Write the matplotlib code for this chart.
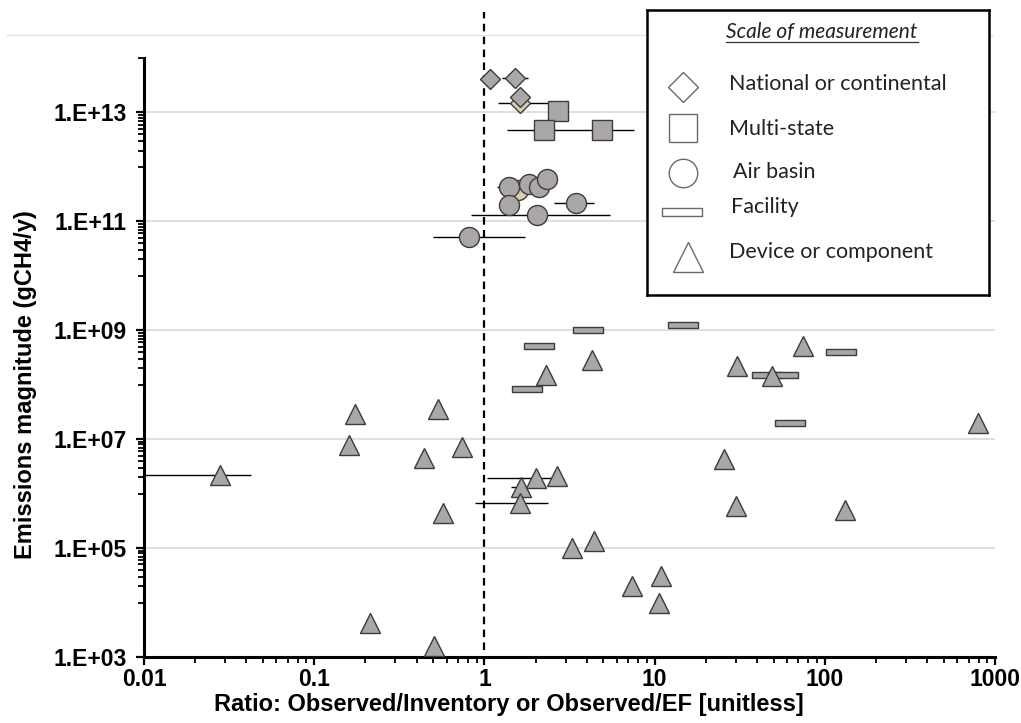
import numpy as np
import matplotlib
matplotlib.use("Agg")
import matplotlib.pyplot as plt
from matplotlib.lines import Line2D
from matplotlib.path import Path
from matplotlib.ticker import FixedLocator, FuncFormatter, NullFormatter

# ---------------- data: ratio (x) and emissions magnitude in gCH4/y (y) ----------------
# National or continental
nat_x = [1.08, 1.51, 1.61]
nat_y = [4.2e13, 4.3e13, 1.96e13]
nat_alt_x = [1.61]
nat_alt_y = [1.5e13]

# Multi-state
multi_x = [2.70, 2.25, 4.9]
multi_y = [1.05e13, 4.8e12, 4.8e12]

# Air basin
basin_x = [1.40, 1.82, 2.10, 2.33, 1.40, 2.03, 3.45, 0.81]
basin_y = [4.3e11, 4.8e11, 4.2e11, 6.0e11, 2.04e11, 1.29e11, 2.2e11, 5.1e10]
basin_alt_x = [1.57]
basin_alt_y = [3.7e11]

# Facility
fac_x = [2.08, 4.07, 14.7, 1.79, 124, 46, 57, 62.6]
fac_y = [5.2e8, 1.03e9, 1.23e9, 8.5e7, 4.0e8, 1.5e8, 1.5e8, 2.0e7]

# Device or component
dev_x = [0.028, 0.16, 0.174, 0.443, 0.537, 0.575, 0.738, 0.213, 0.507,
         1.64, 2.02, 2.67, 1.61, 3.27, 4.38, 7.36, 10.95, 10.6,
         25.4, 30.2, 131, 2.31, 4.28, 30.6, 48.7, 74, 798]
dev_y = [2.2e6, 7.8e6, 2.9e7, 4.6e6, 3.6e7, 4.4e5, 7.3e6, 4.2e3, 1.6e3,
         1.32e6, 1.96e6, 2.1e6, 6.6e5, 1.0e5, 1.33e5, 1.98e4, 3.06e4, 1.0e4,
         4.4e6, 5.9e5, 5.0e5, 1.5e8, 2.8e8, 2.2e8, 1.45e8, 5.2e8, 2.0e7]

# Uncertainty ranges on the ratio (y level, low, high)
err_y = [4.2e13, 4.3e13, 1.5e13, 4.8e12, 4.3e11, 1.29e11, 2.2e11, 5.1e10,
         2.2e6, 1.96e6, 1.32e6, 6.6e5]
err_lo = [0.95, 1.27, 1.20, 1.35, 1.18, 0.83, 2.55, 0.50,
          0.005, 1.03, 1.43, 0.88]
err_hi = [1.20, 1.80, 2.50, 7.55, 1.60, 5.46, 4.42, 1.74,
          0.0425, 2.50, 1.87, 2.35]

x_ticks = [0.01, 0.1, 1, 10, 100, 1000]
x_ticklabels = ["0.01", "0.1", "1", "10", "100", "1000"]
y_ticks = [1e3, 1e5, 1e7, 1e9, 1e11, 1e13]

legend_labels = ["National or continental", "Multi-state", "Air basin",
                 "Facility", "Device or component"]

# ---------------- styling ----------------
W, H = 1021, 723
FILL = "#aba7a7"
EDGE = "#3c3c3c"
ALT_FILL = "#d8ceb2"
GRID = "#d9d9d9"
AX_FONT = "Liberation Sans"

# Flat bar-shaped marker for facilities
bar_marker = Path([(-1, -0.2), (1, -0.2), (1, 0.2), (-1, 0.2), (-1, -0.2)],
                  [Path.MOVETO, Path.LINETO, Path.LINETO, Path.LINETO, Path.CLOSEPOLY])

fig = plt.figure(figsize=(W / 100, H / 100), dpi=100)
L, R, B, T = 144, 995, 657, 58
ax = fig.add_axes([L / W, 1 - B / H, (R - L) / W, (B - T) / H])
ax.set_xscale("log")
ax.set_yscale("log")
ax.set_xlim(0.01, 1000)
ax.set_ylim(1e3, 1e14)

# axes frame
for side in ("top", "right"):
    ax.spines[side].set_visible(False)
for side in ("left", "bottom"):
    ax.spines[side].set_linewidth(2.2)
    ax.spines[side].set_color("black")

# ticks
ax.xaxis.set_major_locator(FixedLocator(x_ticks))
ax.xaxis.set_major_formatter(FuncFormatter(lambda v, p: x_ticklabels[x_ticks.index(v)] if v in x_ticks else ""))
x_minor = [k * 10.0 ** e for e in range(-2, 3) for k in range(2, 10)]
ax.xaxis.set_minor_locator(FixedLocator(x_minor))
ax.xaxis.set_minor_formatter(NullFormatter())

ax.yaxis.set_major_locator(FixedLocator(y_ticks))
ax.yaxis.set_major_formatter(FuncFormatter(lambda v, p: "1.E+%02d" % int(round(np.log10(v)))))
y_minor = [k * 10.0 ** e for e in (4, 6, 8, 10, 12) for k in range(1, 10)] + [1e14]
ax.yaxis.set_minor_locator(FixedLocator(y_minor))
ax.yaxis.set_minor_formatter(NullFormatter())

ax.tick_params(which="major", direction="out", length=5.5, width=1.6, color="black")
ax.tick_params(which="minor", direction="out", length=4.0, width=1.3, color="black")
ax.tick_params(axis="x", which="major", pad=2.5)
ax.tick_params(axis="y", which="major", pad=7)
for lab in ax.get_xticklabels() + ax.get_yticklabels():
    lab.set_fontfamily(AX_FONT)
    lab.set_fontweight("bold")
    lab.set_fontsize(16.5)

ax.yaxis.grid(True, which="major", color=GRID, linewidth=1.2, zorder=0)
ax.set_axisbelow(True)

ax.set_xlabel("Ratio: Observed/Inventory or Observed/EF [unitless]",
              fontfamily=AX_FONT, fontweight="bold", fontsize=17, labelpad=1)
ax.set_ylabel("Emissions magnitude (gCH4/y)",
              fontfamily=AX_FONT, fontweight="bold", fontsize=17, labelpad=12)
# axis titles sit off-centre along their axes
ax.xaxis.label.set_x((509 - L) / (R - L))
ax.yaxis.label.set_y((B - 385) / (B - T))

# reference line at ratio = 1
ax.axvline(1, ymin=(B - 650) / (B - T), ymax=(B - 12) / (B - T), clip_on=False,
           color="black", linewidth=1.6, linestyle=(0, (3.4, 2.4)), zorder=2)

# uncertainty bars
ax.hlines(err_y, err_lo, err_hi, colors="black", linewidth=1.0, zorder=3)

mk = dict(linestyle="none", markeredgecolor=EDGE, markeredgewidth=1.0, zorder=4)
ax.plot(nat_alt_x, nat_alt_y, marker="D", markersize=10.2, markerfacecolor=ALT_FILL, **mk)
ax.plot(basin_alt_x, basin_alt_y, marker="o", markersize=14.4, markerfacecolor=ALT_FILL, **mk)
ax.plot(fac_x, fac_y, marker=bar_marker, markersize=21.6, markerfacecolor=FILL, **mk)
ax.plot(dev_x, dev_y, marker="^", markersize=14.4, markerfacecolor=FILL, **mk)
ax.plot(basin_x, basin_y, marker="o", markersize=14.4, markerfacecolor=FILL, **mk)
ax.plot(nat_x, nat_y, marker="D", markersize=10.2, markerfacecolor=FILL, **mk)
ax.plot(multi_x, multi_y, marker="s", markersize=15, markerfacecolor=FILL, **mk)

# thin rule along the top of the chart area
fig.add_artist(Line2D([7 / W, 993 / W], [1 - 35 / H] * 2, color="#e3e3e3", linewidth=1.0))

# ---------------- legend box ----------------
LX0, LX1, LY0, LY1 = 647, 989, 10, 295
lax = fig.add_axes([LX0 / W, 1 - LY1 / H, (LX1 - LX0) / W, (LY1 - LY0) / H], zorder=5)
lax.set_xlim(LX0, LX1)
lax.set_ylim(LY1, LY0)
lax.set_xticks([])
lax.set_yticks([])
lax.set_facecolor("white")
for s in lax.spines.values():
    s.set_linewidth(1.8)
    s.set_color("black")

LFONT = "Lato"
lax.text(822, 32, "Scale of measurement", ha="center", va="center",
         fontfamily=LFONT, fontstyle="italic", fontsize=15, color="#222222")
lax.plot([726, 918], [42, 42], color="#333333", linewidth=0.9)

leg_marker = dict(linestyle="none", markerfacecolor="white", markeredgecolor="#6a6a6a",
                  markeredgewidth=1.0)
lax.plot([683], [87], marker="D", markersize=15.3, **leg_marker)
lax.plot([683], [128], marker="s", markersize=20, **leg_marker)
lax.plot([683], [173], marker="o", markersize=20.5, **leg_marker)
lax.plot([682], [212], marker=bar_marker, markersize=28.8, **leg_marker)
lax.plot([688], [257], marker="^", markersize=22, **leg_marker)

text_pos = [(729, 84), (729, 129), (733, 172), (731, 207), (729, 252)]
for (tx, ty), lab in zip(text_pos, legend_labels):
    lax.text(tx, ty, lab, ha="left", va="center", fontfamily=LFONT, fontsize=15.5,
             color="#222222")

fig.savefig("out.png", dpi=100)
